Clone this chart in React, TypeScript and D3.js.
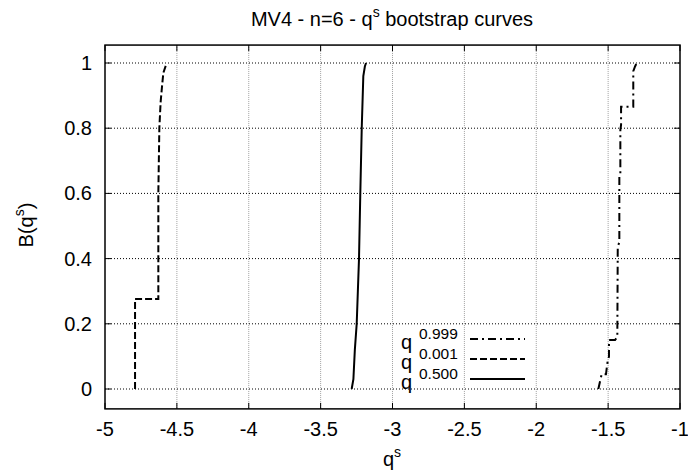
import React from "react";
import * as d3 from "d3";

const xTicks = [-5, -4.5, -4, -3.5, -3, -2.5, -2, -1.5, -1];
const yTicks = [0, 0.2, 0.4, 0.6, 0.8, 1];

// q 0.999 bootstrap curve (dash-dot)
const q999X = [-1.568, -1.558, -1.545, -1.515, -1.505, -1.494, -1.494, -1.452, -1.436, -1.433, -1.422, -1.422, -1.415, -1.415, -1.41, -1.41, -1.325, -1.325, -1.312, -1.301];
const q999Y = [0, 0.02, 0.045, 0.045, 0.08, 0.1, 0.15, 0.15, 0.16, 0.437, 0.45, 0.651, 0.66, 0.794, 0.81, 0.866, 0.866, 0.975, 0.99, 1.0];

// q 0.001 bootstrap curve (dashed)
const q001X = [-4.791, -4.791, -4.629, -4.629, -4.622, -4.613, -4.603, -4.594, -4.571];
const q001Y = [0, 0.276, 0.276, 0.6, 0.8, 0.88, 0.93, 0.97, 1.0];

// q 0.500 bootstrap curve (solid)
const q500X = [-3.284, -3.272, -3.262, -3.249, -3.241, -3.233, -3.224, -3.214, -3.203, -3.192, -3.184];
const q500Y = [0, 0.03, 0.12, 0.2, 0.3, 0.4, 0.6, 0.8, 0.96, 0.99, 1.0];

const legendNums = ["0.999", "0.001", "0.500"];
const dashes = ["8,4,2,4", "7,3", ""];

export default function App() {
  const W = 688, H = 475;
  const x = d3.scaleLinear().domain([-5, -1]).range([105, 680]);
  const y = d3.scaleLinear().domain([0, 1]).range([389, 63]);
  const top = y(1.055), bottom = y(-0.061), left = x(-5), right = x(-1);
  const line = d3.line<[number, number]>().x(d => x(d[0])).y(d => y(d[1]));
  const series = [
    { xs: q999X, ys: q999Y, dash: dashes[0] },
    { xs: q001X, ys: q001Y, dash: dashes[1] },
    { xs: q500X, ys: q500Y, dash: dashes[2] },
  ];
  const font = "'Liberation Sans', Arial, Helvetica, sans-serif";
  return (
    <svg width={W} height={H} style={{ position: "absolute", left: 0, top: 0, background: "#fff" }} fontFamily={font}>
      <rect x={0} y={0} width={W} height={H} fill="#fff" />
      {/* grid */}
      {xTicks.slice(1, -1).map(t => (
        <line key={"gx" + t} x1={x(t)} x2={x(t)} y1={top} y2={bottom} stroke="#a0a0a0" strokeWidth={1} strokeDasharray="1,1" />
      ))}
      {yTicks.map(t => (
        <line key={"gy" + t} x1={left} x2={right} y1={y(t)} y2={y(t)} stroke="#000" strokeWidth={1} strokeDasharray="1,2" />
      ))}
      {/* ticks */}
      {xTicks.map(t => (
        <g key={"tx" + t}>
          <line x1={x(t)} x2={x(t)} y1={bottom} y2={bottom - 6} stroke="#000" />
          <line x1={x(t)} x2={x(t)} y1={top} y2={top + 6} stroke="#000" />
          <text x={x(t)} y={436} textAnchor="middle" fontSize={20}>{t}</text>
        </g>
      ))}
      {yTicks.map(t => (
        <g key={"ty" + t}>
          <line x1={left} x2={left + 6} y1={y(t)} y2={y(t)} stroke="#000" />
          <line x1={right} x2={right - 6} y1={y(t)} y2={y(t)} stroke="#000" />
          <text x={92} y={y(t) + 7} textAnchor="end" fontSize={20}>{t}</text>
        </g>
      ))}
      {/* curves */}
      {series.map((s, i) => (
        <path key={"s" + i} d={line(s.xs.map((v, j) => [v, s.ys[j]]) as [number, number][]) || ""} fill="none" stroke="#000" strokeWidth={2} strokeDasharray={s.dash || undefined} />
      ))}
      {/* frame */}
      <rect x={left} y={top} width={right - left} height={bottom - top} fill="none" stroke="#000" strokeWidth={1.5} />
      {/* legend */}
      {legendNums.map((n, i) => {
        const ly = 339 + i * 20;
        return (
          <g key={"lg" + i}>
            <text x={401} y={ly + 10} fontSize={20}>q</text>
            <text x={419} y={ly} fontSize={15.5}>{n}</text>
            <line x1={470} x2={525} y1={ly} y2={ly} stroke="#000" strokeWidth={2} strokeDasharray={dashes[i] || undefined} />
          </g>
        );
      })}
      {/* title */}
      <text x={392} y={26} textAnchor="middle" fontSize={20}>
        MV4 - n=6 - q<tspan dy={-9} fontSize={14}>s</tspan><tspan dy={9}> bootstrap curves</tspan>
      </text>
      {/* x label */}
      <text x={392} y={466} textAnchor="middle" fontSize={20}>
        q<tspan dy={-9} fontSize={14}>s</tspan>
      </text>
      {/* y label */}
      <text transform={`translate(33,${225}) rotate(-90)`} textAnchor="middle" fontSize={20}>
        B(q<tspan dy={-9} fontSize={14}>s</tspan><tspan dy={9}>)</tspan>
      </text>
    </svg>
  );
}
